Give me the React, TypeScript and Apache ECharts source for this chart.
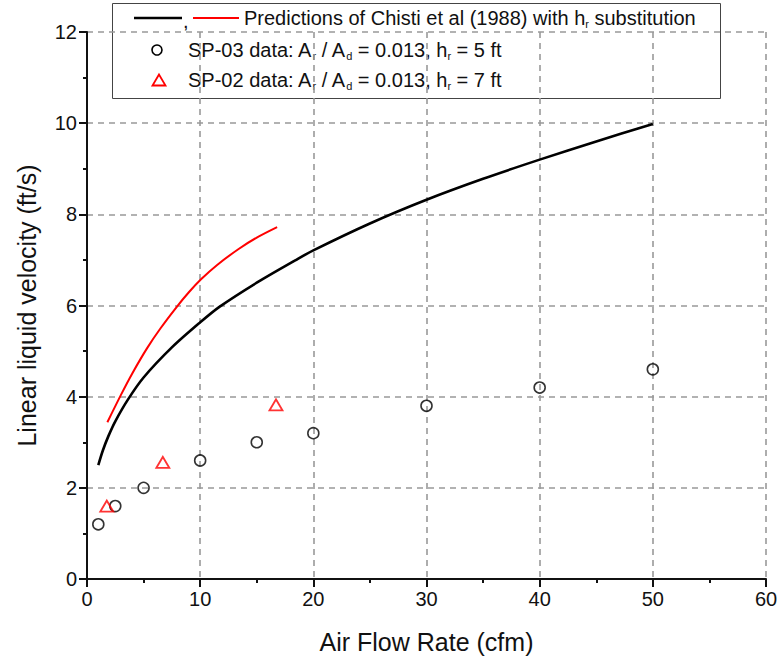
import React, { useEffect, useRef } from "react";
import * as echarts from "echarts";

const FONT = "'Liberation Sans', Arial, sans-serif";

// Model curves
const blackX = [1, 1.4, 1.9, 2.5, 3.6, 5, 7.5, 10, 11.7, 15, 18.4, 20, 25, 30, 35, 40, 45, 50];
const blackY = [2.5, 2.82, 3.14, 3.46, 3.93, 4.42, 5.08, 5.63, 5.97, 6.5, 6.99, 7.21, 7.8, 8.32, 8.78, 9.2, 9.6, 9.98];
const redX = [1.8, 3.0, 4.0, 5.3, 6.5, 7.9, 9.0, 10.1, 11.5, 13.4, 15, 16.8];
const redY = [3.44, 4.04, 4.51, 5.06, 5.5, 5.96, 6.29, 6.58, 6.89, 7.24, 7.49, 7.72];

// Measured data
const sp03X = [1, 2.5, 5, 10, 15, 20, 30, 40, 50];
const sp03Y = [1.2, 1.6, 2.0, 2.6, 3.0, 3.2, 3.8, 4.2, 4.6];
const sp02X = [1.75, 6.7, 16.7];
const sp02Y = [1.6, 2.56, 3.82];

const xTicks = [0, 10, 20, 30, 40, 50, 60];
const yTicks = [0, 2, 4, 6, 8, 10, 12];

const legendLabels = [
  "Predictions of Chisti et al (1988) with h{s|r} substitution",
  "SP-03 data: A{s|r} / A{s|d} = 0.013, h{s|r} = 5 ft",
  "SP-02 data: A{s|r} / A{s|d} = 0.013, h{s|r} = 7 ft",
];

const zip = (xs: number[], ys: number[]) => xs.map((x, i) => [x, ys[i]]);

export default function App() {
  const ref = useRef<HTMLDivElement>(null);
  useEffect(() => {
    if (!ref.current) return;
    const chart = echarts.init(ref.current, undefined, { renderer: "svg" });
    const rich = {
      s: { fontSize: 11, lineHeight: 11, verticalAlign: "bottom", fontFamily: FONT, fill: "#111" },
    };
    const textStyleBase = {
      fontSize: 20,
      fontFamily: FONT,
      fill: "#111",
      verticalAlign: "middle",
      align: "left",
      lineHeight: 22,
      rich,
    };
    const axisCommon = {
      type: "value",
      nameLocation: "middle",
      nameGap: 50,
      axisLine: { show: true, onZero: false, lineStyle: { color: "#111", width: 2 } },
      axisTick: { show: true, inside: false, length: 8, lineStyle: { color: "#111", width: 2 } },
      minorTick: { show: true, splitNumber: 2, length: 4, lineStyle: { color: "#111", width: 2 } },
      axisLabel: { fontSize: 20, fontFamily: FONT, color: "#111", margin: 10 },
      splitLine: { show: true, lineStyle: { color: "#999", type: [6, 5], width: 1.6 } },
    };
    const option: any = {
      animation: false,
      backgroundColor: "#fff",
      grid: { left: 87, right: 15, top: 32, bottom: 89, containLabel: false },
      xAxis: {
        ...axisCommon,
        min: xTicks[0],
        max: xTicks[xTicks.length - 1],
        interval: 10,
        name: "Air Flow Rate (cfm)",
        nameTextStyle: { fontSize: 25, fontFamily: FONT, color: "#111" },
      },
      yAxis: {
        ...axisCommon,
        min: yTicks[0],
        max: yTicks[yTicks.length - 1],
        interval: 2,
        name: "Linear liquid velocity (ft/s)",
        nameGap: 48,
        nameTextStyle: { fontSize: 25, fontFamily: FONT, color: "#111" },
      },
      series: [
        {
          type: "line",
          data: zip(blackX, blackY),
          smooth: 0.3,
          showSymbol: false,
          lineStyle: { color: "#000", width: 2.6 },
          z: 3,
        },
        {
          type: "line",
          data: zip(redX, redY),
          smooth: 0.3,
          showSymbol: false,
          lineStyle: { color: "#ff0000", width: 2 },
          z: 3,
        },
        {
          type: "scatter",
          data: zip(sp03X, sp03Y),
          symbol: "circle",
          symbolSize: 11,
          itemStyle: { color: "rgba(255,255,255,0)", borderColor: "#000", borderWidth: 1.6 },
          z: 4,
        },
        {
          type: "scatter",
          data: zip(sp02X, sp02Y),
          symbol: "triangle",
          symbolSize: [13, 11],
          itemStyle: { color: "rgba(255,255,255,0)", borderColor: "#ff0000", borderWidth: 1.8 },
          z: 4,
        },
      ],
      graphic: [
        {
          type: "group",
          z: 100,
          children: [
            {
              type: "rect",
              shape: { x: 112.5, y: 3.5, width: 608, height: 95 },
              style: { fill: "#fff", stroke: "#444", lineWidth: 1 },
            },
            {
              type: "line",
              shape: { x1: 134, y1: 18, x2: 182, y2: 18 },
              style: { stroke: "#000", lineWidth: 2.6 },
            },
            {
              type: "text",
              style: { ...textStyleBase, text: ",", x: 183, y: 21 },
            },
            {
              type: "line",
              shape: { x1: 193, y1: 18, x2: 239, y2: 18 },
              style: { stroke: "#ff0000", lineWidth: 2 },
            },
            {
              type: "text",
              style: { ...textStyleBase, text: legendLabels[0], x: 244, y: 18 },
            },
            {
              type: "circle",
              shape: { cx: 157, cy: 50, r: 5 },
              style: { fill: "none", stroke: "#000", lineWidth: 1.6 },
            },
            {
              type: "text",
              style: { ...textStyleBase, text: legendLabels[1], x: 188, y: 50 },
            },
            {
              type: "polygon",
              shape: { points: [[159, 74.5], [152.5, 85.5], [165.5, 85.5]] },
              style: { fill: "none", stroke: "#ff0000", lineWidth: 1.8 },
            },
            {
              type: "text",
              style: { ...textStyleBase, text: legendLabels[2], x: 188, y: 80 },
            },
          ],
        },
      ],
    };
    chart.setOption(option);
    return () => chart.dispose();
  }, []);
  return (
    <div
      ref={ref}
      style={{ position: "fixed", left: 0, top: 0, width: 781, height: 668 }}
    />
  );
}
